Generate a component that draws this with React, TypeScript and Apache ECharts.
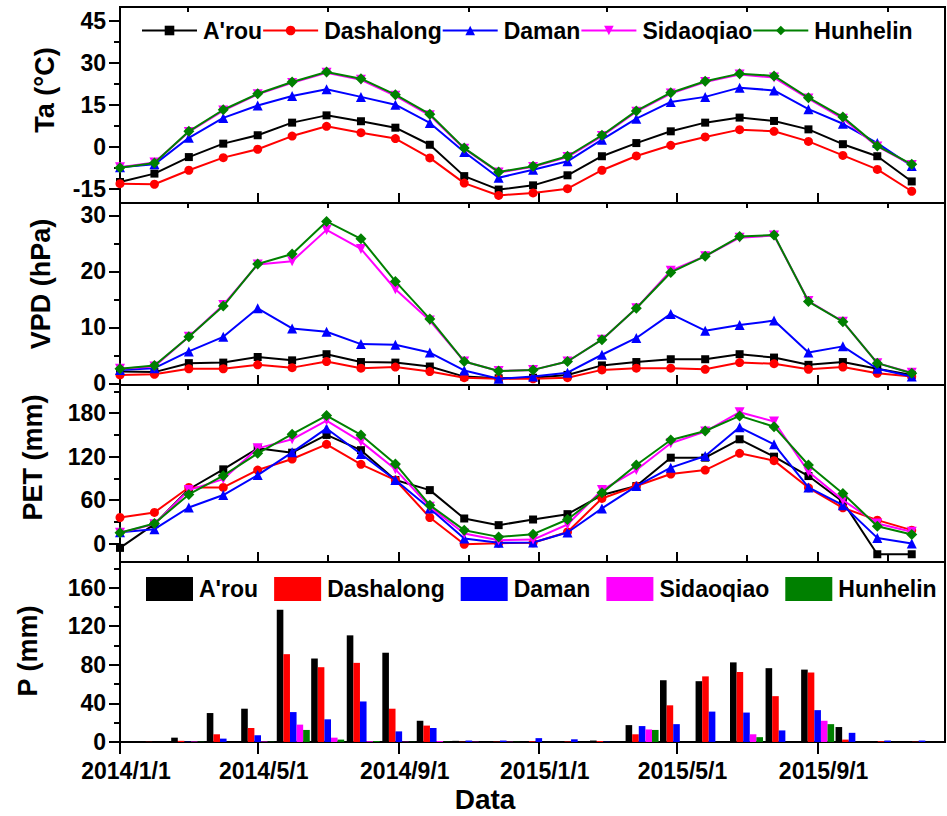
import React, { useEffect, useRef } from 'react';
import * as echarts from 'echarts';

const SITES = ["A'rou", 'Dashalong', 'Daman', 'Sidaoqiao', 'Hunhelin'];
const COLORS = ['#000000', '#ff0000', '#0000ff', '#ff00ff', '#008000'];
const SYMBOLS = ['rect', 'circle', 'triangle', 'triangle', 'diamond'];
const SYMBOL_ROTATE = [0, 0, 0, 180, 0];
const SYMBOL_SIZE = [8, 9, 10, 10, 11];

// Air temperature (°C), 24 monthly points
const TA_AROU = [-12.5, -9.5, -3.6, 1.2, 4.2, 8.7, 11.3, 9.2, 6.9, 0.8, -10.4, -15.2, -13.7, -10.1, -3.3, 1.4, 5.6, 8.7, 10.5, 9.3, 6.3, 1.0, -3.3, -12.3];
const TA_DASHALONG = [-13.1, -13.3, -8.3, -3.8, -0.8, 3.9, 7.4, 5.1, 3.0, -3.9, -12.9, -17.3, -16.4, -14.9, -8.3, -3.2, 0.6, 3.6, 6.2, 5.6, 2.0, -3.0, -8.0, -15.8];
const TA_DAMAN = [-7.2, -6.2, 3.3, 10.4, 14.8, 18.2, 20.6, 17.9, 15.1, 8.6, -1.8, -11.0, -8.1, -5.1, 2.6, 10.1, 16.1, 17.9, 21.2, 20.2, 13.5, 8.3, 1.4, -6.8];
const TA_SIDAOQIAO = [-7.2, -5.5, 5.4, 13.0, 18.8, 22.9, 26.5, 24.0, 18.3, 11.3, -0.6, -9.1, -7.1, -3.6, 3.9, 12.6, 19.1, 23.2, 25.9, 24.8, 17.3, 10.1, 0.2, -6.4];
const TA_HUNHELIN = [-7.4, -5.7, 5.6, 13.3, 19.0, 23.2, 26.8, 24.4, 18.7, 11.7, -0.4, -8.9, -6.9, -3.3, 4.2, 12.9, 19.4, 23.5, 26.2, 25.4, 17.6, 10.7, 0.4, -6.2];

// Vapour pressure deficit (hPa)
const VPD_AROU = [2.1, 2.0, 3.6, 3.7, 4.7, 4.1, 5.2, 3.8, 3.7, 3.0, 1.2, 0.9, 1.0, 1.5, 3.2, 3.8, 4.3, 4.3, 5.2, 4.6, 3.3, 3.8, 2.6, 1.5];
const VPD_DASHALONG = [1.5, 1.6, 2.6, 2.6, 3.3, 2.8, 3.9, 2.7, 2.9, 2.1, 1.0, 0.8, 0.8, 1.0, 2.4, 2.7, 2.7, 2.5, 3.7, 3.5, 2.5, 2.9, 1.8, 1.2];
const VPD_DAMAN = [2.4, 2.7, 5.7, 8.3, 13.4, 9.8, 9.2, 7.0, 6.9, 5.5, 2.3, 0.8, 1.2, 1.9, 5.1, 8.1, 12.4, 9.4, 10.4, 11.2, 5.5, 6.6, 2.6, 1.2];
const VPD_SIDAOQIAO = [2.6, 3.0, 8.3, 14.0, 21.2, 21.8, 27.4, 24.0, 16.8, 11.2, 3.9, 2.2, 2.4, 3.9, 7.8, 13.4, 20.1, 22.7, 26.0, 26.4, 14.7, 11.0, 3.6, 1.9];
const VPD_HUNHELIN = [2.6, 3.2, 8.3, 13.8, 21.3, 23.1, 28.9, 25.8, 18.2, 11.5, 3.9, 2.2, 2.4, 3.9, 7.8, 13.4, 19.8, 22.7, 26.2, 26.5, 14.6, 11.0, 3.6, 1.8];

// Potential evapotranspiration (mm)
const PET_AROU = [-6, 26.8, 75, 102.5, 131.5, 125.5, 150, 129, 87.7, 73.8, 34.6, 25.4, 33.2, 40.6, 67, 79.4, 118.6, 118.6, 144, 120, 93.2, 57.7, -14.8, -14.8];
const PET_DASHALONG = [36, 43, 77.5, 77.5, 101.5, 116.8, 137, 109.4, 87.7, 36, -1, 0.5, 1, 16, 62.3, 79.4, 96, 101.5, 124.6, 114.5, 77, 49.4, 32.3, 18.5];
const PET_DAMAN = [15.5, 19.8, 49.8, 67, 94.6, 126, 159, 123.7, 87.7, 48.5, 7, 1, 1.4, 15.2, 48.5, 79.4, 104.8, 121, 160.6, 137, 77.5, 53, 7.8, 0];
const PET_SIDAOQIAO = [14.8, 26.8, 73.8, 89, 131.5, 144, 169.8, 140.8, 102.5, 50.8, 13.8, 4.6, 5.5, 26.3, 73.8, 101.5, 138.5, 154.6, 181.4, 168.5, 99.2, 60, 27.7, 16.2];
const PET_HUNHELIN = [14.8, 27.7, 67.8, 93.7, 124.6, 151, 176.8, 150, 110, 53, 18.5, 9.2, 12.9, 33.2, 70, 108.5, 143, 155.5, 176.3, 161.5, 108.5, 69.2, 24, 12.5];

// Precipitation (mm), monthly
const P_MONTHS = ['2014/1/1', '2014/2/1', '2014/3/1', '2014/4/1', '2014/5/1', '2014/6/1', '2014/7/1', '2014/8/1', '2014/9/1', '2014/10/1', '2014/11/1', '2014/12/1',
  '2015/1/1', '2015/2/1', '2015/3/1', '2015/4/1', '2015/5/1', '2015/6/1', '2015/7/1', '2015/8/1', '2015/9/1', '2015/10/1', '2015/11/1', '2015/12/1'];
const P_AROU = [0, 0.7, 4.5, 30, 34.5, 137, 86.5, 110.5, 92.5, 22, 1.2, 0.5, 0.8, 0.8, 1.5, 17.5, 64, 63, 82.5, 76.5, 75, 15.5, 0.8, 1];
const P_DASHALONG = [0, 0.2, 1.2, 8, 14.5, 91, 77.5, 82, 34.5, 17, 0.3, 0.3, 0.8, 0.5, 1, 8, 38, 68, 72.5, 47.5, 72, 2.5, 0.8, 0.3];
const P_DAMAN = [0, 0, 0.3, 3.5, 7, 31, 23.5, 42, 11, 14.5, 1.5, 1.5, 4, 2.8, 0.3, 16.5, 18.5, 31.5, 30.5, 12, 33, 9.5, 1.5, 1.5];
const P_SIDAOQIAO = [0, 0, 0.5, 0, 0.5, 18, 4.5, 0.8, 0.3, 1, 0.3, 0.2, 0, 0, 0, 13, 0, 0, 8, 0, 22, 0, 0, 0];
const P_HUNHELIN = [0, 0, 0.3, 0, 0.3, 12.5, 2.5, 1, 0.2, 0.3, 0, 0.2, 0, 0, 0, 12.5, 0, 0, 5, 0, 18.5, 0, 0, 0];

// Axis ticks
const X_START = '2014/1/1';
const X_SPAN_DAYS = 719;
const LINE_STEP_DAYS = 30;
const X_MAJOR = ['2014/1/1', '2014/5/1', '2014/9/1', '2015/1/1', '2015/5/1', '2015/9/1'];
const X_MINOR = ['2014/3/1', '2014/7/1', '2014/11/1', '2015/3/1', '2015/7/1', '2015/11/1'];

const TA_TICKS = [-15, 0, 15, 30, 45];
const TA_MINOR = [-7.5, 7.5, 22.5, 37.5];
const VPD_TICKS = [0, 10, 20, 30];
const VPD_MINOR = [5, 15, 25];
const PET_TICKS = [0, 60, 120, 180];
const PET_MINOR = [30, 90, 150, 210];
const P_TICKS = [0, 40, 80, 120, 160];
const P_MINOR = [20, 60, 100, 140, 180];

const FONT = "'Liberation Sans', Arial, Helvetica, sans-serif";
const DAY = 86400000;

function ts(s: string): number {
  const [y, m, d] = s.split('/').map(Number);
  return Date.UTC(y, m - 1, d);
}

export default function App() {
  const ref = useRef<HTMLDivElement>(null);

  useEffect(() => {
    document.body.style.margin = '0';
    if (!ref.current) return;
    const chart = echarts.init(ref.current, undefined, { renderer: 'svg' });

    const xMin = ts(X_START);
    const xMax = xMin + X_SPAN_DAYS * DAY;
    const majorTs = X_MAJOR.map(ts);
    const minorTs = X_MINOR.map(ts);

    const panels = [
      { name: 'Ta (\u00B0C)', min: -20, max: 50, ticks: TA_TICKS, minor: TA_MINOR, data: [TA_AROU, TA_DASHALONG, TA_DAMAN, TA_SIDAOQIAO, TA_HUNHELIN], gap: 62, shift: 30 },
      { name: 'VPD (hPa)', min: -0.3, max: 32.2, ticks: VPD_TICKS, minor: VPD_MINOR, data: [VPD_AROU, VPD_DASHALONG, VPD_DAMAN, VPD_SIDAOQIAO, VPD_HUNHELIN], gap: 66, shift: 20 },
      { name: 'PET (mm)', min: -25.5, max: 219, ticks: PET_TICKS, minor: PET_MINOR, data: [PET_AROU, PET_DASHALONG, PET_DAMAN, PET_SIDAOQIAO, PET_HUNHELIN], gap: 74, shift: 32 },
      { name: 'P (mm)', min: 0, max: 186.5, ticks: P_TICKS, minor: P_MINOR, data: [P_AROU, P_DASHALONG, P_DAMAN, P_SIDAOQIAO, P_HUNHELIN], gap: 79, shift: 2 },
    ];
    const tops = [7, 203, 385, 562];
    const heights = [196, 182, 177, 180];

    const grid = tops.map((t, i) => ({
      left: 120, right: 2, top: t, height: heights[i],
      show: true, borderColor: '#000', borderWidth: 2, backgroundColor: 'transparent',
    }));

    const labelStyle = { color: '#000', fontFamily: FONT, fontWeight: 'bold' as const, fontSize: 23 };

    const xAxis: any[] = [];
    const yAxis: any[] = [];
    panels.forEach((p, g) => {
      const last = g === 3;
      xAxis.push({
        type: 'value', gridIndex: g, min: xMin, max: xMax, scale: true,
        axisLine: { show: true, onZero: false, lineStyle: { color: '#000', width: 2 } },
        axisTick: { show: true, inside: !last, length: last ? 12 : 10, customValues: majorTs, lineStyle: { color: '#000', width: 2 } },
        axisLabel: {
          show: last, customValues: majorTs, margin: 17, ...labelStyle, padding: [0, 0, 0, 12],
          formatter: (v: number) => { const i = majorTs.indexOf(v); return i >= 0 ? X_MAJOR[i] : ''; },
        },
        splitLine: { show: false },
        name: last ? 'Data' : '',
        nameLocation: 'middle', nameGap: 43,
        nameTextStyle: { color: '#000', fontFamily: FONT, fontWeight: 'bold', fontSize: 28, padding: [0, 95, 0, 0] },
      });
      xAxis.push({
        type: 'value', gridIndex: g, min: xMin, max: xMax, scale: true,
        axisLine: { show: false, onZero: false },
        axisTick: { show: true, inside: !last, length: last ? 7 : 5, customValues: minorTs, lineStyle: { color: '#000', width: 2 } },
        axisLabel: { show: false },
        splitLine: { show: false },
      });
      yAxis.push({
        type: 'value', gridIndex: g, position: 'left', min: p.min, max: p.max,
        axisLine: { show: true, onZero: false, lineStyle: { color: '#000', width: 2 } },
        axisTick: { show: true, inside: false, length: 11, customValues: p.ticks, lineStyle: { color: '#000', width: 2 } },
        axisLabel: { show: true, customValues: p.ticks, margin: 14, ...labelStyle },
        splitLine: { show: false },
        name: p.name, nameLocation: 'middle', nameRotate: 90, nameGap: p.gap,
        nameTextStyle: { color: '#000', fontFamily: FONT, fontWeight: 'bold', fontSize: 27, padding: [0, 0, 0, p.shift] },
      });
      yAxis.push({
        type: 'value', gridIndex: g, position: 'left', min: p.min, max: p.max,
        axisLine: { show: false, onZero: false },
        axisTick: { show: true, inside: false, length: 6, customValues: p.minor, lineStyle: { color: '#000', width: 2 } },
        axisLabel: { show: false },
        splitLine: { show: false },
      });
    });

    const series: any[] = [];
    panels.forEach((p, g) => {
      p.data.forEach((vals, s) => {
        if (g < 3) {
          series.push({
            type: 'line', name: SITES[s], xAxisIndex: 2 * g, yAxisIndex: 2 * g,
            data: vals.map((v, i) => [xMin + i * LINE_STEP_DAYS * DAY, v]),
            symbol: SYMBOLS[s], symbolSize: SYMBOL_SIZE[s], symbolRotate: SYMBOL_ROTATE[s],
            lineStyle: { color: COLORS[s], width: 2 },
            itemStyle: { color: COLORS[s] },
            z: 2 + s,
          });
        } else {
          series.push({
            type: 'bar', name: SITES[s], xAxisIndex: 2 * g, yAxisIndex: 2 * g,
            data: vals.map((v, i) => [ts(P_MONTHS[i]), v]),
            barWidth: 6.6, barGap: '0%',
            itemStyle: { color: COLORS[s] },
          });
        }
      });
    });

    const legendText = { color: '#000', fontFamily: FONT, fontWeight: 'bold' as const, fontSize: 23 };

    chart.setOption({
      animation: false,
      backgroundColor: '#fff',
      grid,
      xAxis,
      yAxis,
      legend: [
        {
          top: 19, left: 141, padding: 0, itemWidth: 55, itemHeight: 12, itemGap: 0,
          data: SITES, selectedMode: false,
          textStyle: { ...legendText, padding: [0, 0, 0, 1] },
        },
        {
          top: 577, left: 146, padding: 0, icon: 'rect', itemWidth: 47, itemHeight: 24, itemGap: 16,
          data: SITES.map((n, i) => ({ name: n, itemStyle: { color: COLORS[i], borderWidth: 0 } })),
          selectedMode: false,
          textStyle: { ...legendText, padding: [0, 0, 0, 1] },
        },
      ],
      series,
    });

    return () => chart.dispose();
  }, []);

  return <div ref={ref} style={{ width: 947, height: 816 }} />;
}
